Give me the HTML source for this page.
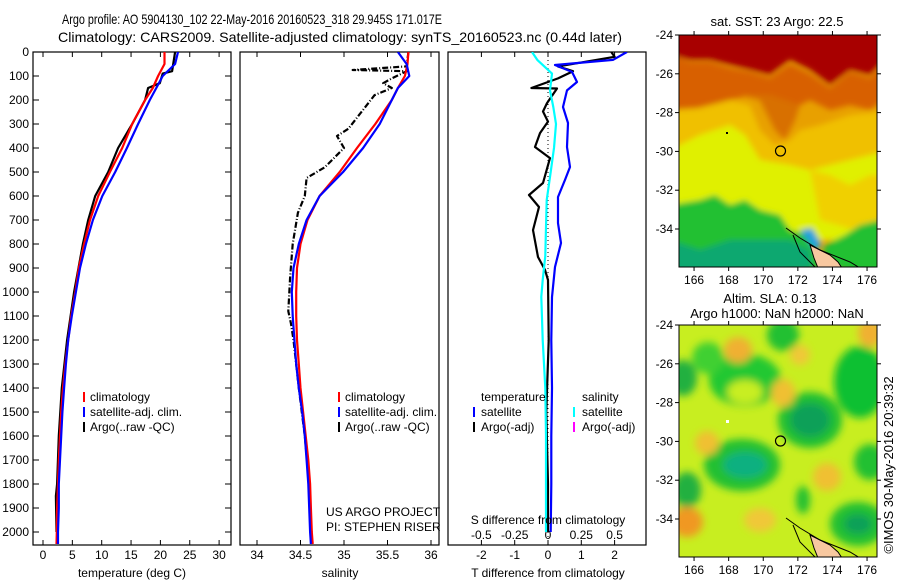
<!DOCTYPE html>
<html><head><meta charset="utf-8"><style>
body{margin:0;background:#fff;}
svg{display:block;font-family:"Liberation Sans",sans-serif;}
text{fill:#000;}
</style></head><body>
<svg id="fig" width="900" height="580" viewBox="0 0 900 580">
<defs>
<filter id="bl3" x="-20%" y="-20%" width="140%" height="140%"><feGaussianBlur stdDeviation="3"/></filter>
<filter id="bl6" x="-50%" y="-50%" width="200%" height="200%"><feGaussianBlur stdDeviation="4"/></filter>
<clipPath id="cm1"><rect x="679" y="35" width="198" height="232"/></clipPath>
<clipPath id="cm2"><rect x="679" y="325" width="198" height="232"/></clipPath>
<clipPath id="cp1"><rect x="33" y="52" width="198" height="493"/></clipPath>
<clipPath id="cp2"><rect x="240" y="52" width="199" height="493"/></clipPath>
<clipPath id="cp3"><rect x="448" y="52" width="198" height="493"/></clipPath>
</defs>
<text x="62" y="24" font-size="14" textLength="380" lengthAdjust="spacingAndGlyphs">Argo profile: AO 5904130_102 22-May-2016 20160523_318 29.945S 171.017E</text>
<text x="58" y="42" font-size="14" textLength="564" lengthAdjust="spacingAndGlyphs">Climatology: CARS2009. Satellite-adjusted climatology: synTS_20160523.nc (0.44d later)</text>

<g id="axes"></g>

<!-- Map 1: SST -->
<g>
<g clip-path="url(#cm1)">
<rect x="679" y="35" width="198" height="232" fill="#e8a000"/>
<g filter="url(#bl3)">
<polygon points="670,25 890,25 890,55 870,75 850,70 830,85 810,70 790,60 770,75 750,70 730,65 710,60 690,60 670,55" fill="#a80000"/>
<polygon points="670,55 690,62 710,62 730,68 750,72 770,78 790,64 810,74 830,88 850,72 870,78 890,58 890,95 870,110 850,105 830,110 810,100 790,110 770,100 750,95 730,100 710,105 690,110 670,110" fill="#d86000"/>
<polygon points="740,95 760,100 775,130 785,140 795,120 800,105 770,95" fill="#d87000"/>
<polygon points="670,110 700,108 730,100 750,105 760,130 775,145 790,140 800,130 820,125 850,115 890,110 890,200 670,200" fill="#f0c000"/>
<polygon points="670,150 700,135 730,125 745,135 760,160 790,165 810,170 830,165 850,160 870,155 890,150 890,240 670,240" fill="#e0f000"/>
<polygon points="810,170 830,175 850,185 870,175 890,175 890,240 820,220" fill="#f0d000"/>
<polygon points="670,205 700,200 715,195 730,205 745,200 760,210 780,215 790,230 810,235 815,250 820,270 670,280" fill="#20c030"/>
<polygon points="820,265 825,245 845,235 860,225 880,220 890,220 890,280" fill="#20c030"/>
<polygon points="670,240 700,250 730,240 760,240 790,240 810,250 812,270 670,280" fill="#10a870"/>
<polygon points="800,230 812,228 822,245 815,250" fill="#20a0e0"/>
</g>
<polygon points="810,245 820,250 830,255 838,262 842,268 818,268 814,258" fill="#f8c8a0" stroke="#000" stroke-width="1"/>
<polyline points="786,228 800,238 820,250 850,262 860,268" fill="none" stroke="#000" stroke-width="1"/>
<polyline points="793,235 800,252 816,268" fill="none" stroke="#000" stroke-width="1"/>
<circle cx="780.5" cy="151" r="5" fill="none" stroke="#000" stroke-width="1.2"/>
<rect x="726" y="132" width="2" height="2" fill="#000"/>
</g>
<rect x="679" y="35" width="198" height="232" fill="none" stroke="#000"/>
<text x="777" y="26" font-size="13" text-anchor="middle">sat. SST: 23 Argo: 22.5</text>
</g>

<!-- Map 2: SLA -->
<g>
<g clip-path="url(#cm2)">
<rect x="679" y="325" width="198" height="232" fill="#c8ee20"/>
<g filter="url(#bl6)">
<ellipse cx="745" cy="380" rx="36" ry="26" fill="#20c830"/>
<ellipse cx="745" cy="392" rx="18" ry="12" fill="#c8ee20"/>
<ellipse cx="708" cy="358" rx="16" ry="16" fill="#40d030"/>
<ellipse cx="738" cy="350" rx="14" ry="13" fill="#f0b030"/>
<ellipse cx="683" cy="378" rx="14" ry="18" fill="#20b040"/>
<ellipse cx="783" cy="335" rx="16" ry="16" fill="#20c030"/>
<ellipse cx="810" cy="420" rx="32" ry="28" fill="#20c030"/>
<ellipse cx="810" cy="420" rx="20" ry="17" fill="#10a058"/>
<ellipse cx="860" cy="382" rx="26" ry="36" fill="#10c030"/>
<ellipse cx="742" cy="465" rx="38" ry="26" fill="#20c030"/>
<ellipse cx="745" cy="465" rx="22" ry="13" fill="#10b080"/>
<ellipse cx="687" cy="490" rx="14" ry="18" fill="#20b040"/>
<ellipse cx="687" cy="522" rx="16" ry="15" fill="#f09820"/>
<ellipse cx="858" cy="524" rx="28" ry="22" fill="#20c030"/>
<ellipse cx="858" cy="524" rx="14" ry="10" fill="#10a058"/>
<ellipse cx="870" cy="462" rx="16" ry="18" fill="#20c030"/>
<ellipse cx="783" cy="393" rx="12" ry="14" fill="#f0c030"/>
<ellipse cx="707" cy="443" rx="12" ry="12" fill="#f0c030"/>
<ellipse cx="870" cy="333" rx="12" ry="14" fill="#f0b030"/>
<ellipse cx="827" cy="477" rx="14" ry="14" fill="#f0c030"/>
<ellipse cx="803" cy="500" rx="7" ry="14" fill="#20c030"/>
<ellipse cx="760" cy="520" rx="16" ry="12" fill="#f0c838"/>
<ellipse cx="800" cy="355" rx="10" ry="10" fill="#f0c838"/>
</g>
<polygon points="810,535 820,540 830,545 838,552 842,558 818,558 814,548" fill="#f8c8a0" stroke="#000" stroke-width="1"/>
<polyline points="786,518 800,528 820,540 850,552 860,558" fill="none" stroke="#000" stroke-width="1"/>
<polyline points="793,525 800,542 816,558" fill="none" stroke="#000" stroke-width="1"/>
<circle cx="780.5" cy="441" r="5" fill="none" stroke="#000" stroke-width="1.2"/>
<rect x="726" y="420" width="3" height="3" fill="#fff"/>
</g>
<rect x="679" y="325" width="198" height="232" fill="none" stroke="#000"/>
<text x="770" y="303" font-size="13" text-anchor="middle">Altim. SLA: 0.13</text>
<text x="777" y="318" font-size="13" text-anchor="middle">Argo h1000: NaN h2000: NaN</text>
</g>
<text transform="translate(893,465) rotate(-90)" font-size="13" text-anchor="middle">©IMOS 30-May-2016 20:39:32</text>

<text x="326" y="516" font-size="12">US ARGO PROJECT</text>
<text x="326" y="531" font-size="12">PI: STEPHEN RISER</text>
<text x="132" y="577" font-size="12" text-anchor="middle">temperature (deg C)</text>
<text x="340" y="577" font-size="12" text-anchor="middle">salinity</text>
<text x="548" y="577" font-size="12" text-anchor="middle">T difference from climatology</text>
<text x="548" y="524" font-size="12" text-anchor="middle">S difference from climatology</text>

<g id="legends">
<g>
<rect x="83" y="392" width="2" height="10" fill="#f00"/><text x="90" y="401" font-size="12">climatology</text>
<rect x="83" y="407" width="2" height="10" fill="#00f"/><text x="90" y="416" font-size="12">satellite-adj. clim.</text>
<rect x="83" y="422" width="2" height="10" fill="#000"/><text x="90" y="431" font-size="12">Argo(..raw -QC)</text>
</g>
<g>
<rect x="338" y="392" width="2" height="10" fill="#f00"/><text x="345" y="401" font-size="12">climatology</text>
<rect x="338" y="407" width="2" height="10" fill="#00f"/><text x="345" y="416" font-size="12">satellite-adj. clim.</text>
<rect x="338" y="422" width="2" height="10" fill="#000"/><text x="345" y="431" font-size="12">Argo(..raw -QC)</text>
</g>
<g>
<text x="481" y="401" font-size="12">temperature</text>
<rect x="473" y="407" width="2" height="10" fill="#00f"/><text x="481" y="416" font-size="12">satellite</text>
<rect x="473" y="422" width="2" height="10" fill="#000"/><text x="481" y="431" font-size="12">Argo(-adj)</text>
<text x="582" y="401" font-size="12">salinity</text>
<rect x="573" y="407" width="2" height="10" fill="#0ff"/><text x="582" y="416" font-size="12">satellite</text>
<rect x="573" y="422" width="2" height="10" fill="#f0f"/><text x="582" y="431" font-size="12">Argo(-adj)</text>
</g>
</g>
</svg>
<script>
// ---- data ----
const depthClim = [0,50,100,150,200,300,400,500,600,700,800,900,1000,1100,1200,1300,1400,1500,1600,1700,1800,1900,2000,2050];
const tempClim = [20.7,20.7,19.6,18.7,17.4,15.2,13.5,11.4,9.4,8.0,7.0,6.1,5.5,4.8,4.3,3.8,3.4,3.1,2.9,2.7,2.55,2.4,2.35,2.3];
const tempSat = [23.0,22.5,20.4,19.3,18.2,16.2,14.3,12.3,10.1,8.5,7.3,6.3,5.6,4.9,4.3,3.9,3.6,3.3,3.1,2.9,2.7,2.7,2.55,2.55];
const depthArgoT = [0,80,90,130,150,200,300,400,500,600,700,800,1000,1200,1400,1600,1800,1850,2000];
const tempArgo = [22.5,22.0,20.4,19.9,17.9,17.4,15.2,12.8,11.1,8.9,7.7,6.8,5.3,4.1,3.2,2.7,2.4,2.2,2.3];
const salClim = [35.74,35.73,35.70,35.62,35.55,35.36,35.15,34.95,34.72,34.58,34.50,34.46,34.45,34.45,34.46,34.48,34.50,34.53,34.56,34.59,34.61,34.62,34.63,34.64];
const salSat = [35.62,35.72,35.75,35.62,35.55,35.41,35.22,34.99,34.72,34.57,34.48,34.42,34.40,34.41,34.43,34.45,34.48,34.52,34.55,34.57,34.59,34.60,34.61,34.62];
const depthArgoS = [0,60,75,80,110,130,150,180,250,320,350,400,480,525,600,670,800,940,1080,1130,1200,1400,1600,1800,2000];
const salArgo = [35.74,35.72,35.10,35.72,35.55,35.45,35.55,35.35,35.20,35.05,34.92,35.00,34.78,34.57,34.55,34.47,34.41,34.38,34.36,34.39,34.42,34.48,34.55,34.60,34.62];
const depthDiffSat = [0,33,54,83,125,160,229,296,396,479,533,604,713,796,896,1021,1200,1400,1600,1800,2000];
const tDiffSat = [2.37,1.95,0.21,0.72,0.87,0.57,0.45,0.6,0.57,0.66,0.51,0.3,0.3,0.39,0.21,0.12,0.1,0.12,0.1,0.1,0.08];
const depthDiffArgo = [0,20,60,80,110,150,152,213,248,290,338,396,442,546,596,646,742,854,908,950,1200,1500,1800,2000];
const tDiffArgo = [1.9,2.0,0.3,0.75,0.3,-0.5,0.27,-0.03,-0.15,0.0,-0.24,-0.39,0.06,-0.15,-0.57,-0.27,-0.45,-0.3,-0.09,0.0,0.02,-0.05,0.0,0.0];
const depthDiffS = [0,33,90,160,229,300,400,500,617,729,850,950,1020,1200,1400,1600,1800,2000];
const sDiffSat = [-0.12,-0.08,0.03,0.015,0.04,0.06,0.045,0.02,-0.01,-0.015,-0.02,-0.04,-0.05,-0.04,-0.02,-0.015,-0.015,-0.015];
const depthTicks = [0,100,200,300,400,500,600,700,800,900,1000,1100,1200,1300,1400,1500,1600,1700,1800,1900,2000];
const tempTicks = [0,5,10,15,20,25,30];
const salTicks = [34,34.5,35,35.5,36];
const tDiffTicks = [-2,-1,0,1,2];
const sDiffTicks = [-0.5,-0.25,0,0.25,0.5];
const lonTicks = [166,168,170,172,174,176];
const latTicks = [-24,-26,-28,-30,-32,-34];

// ---- scales ----
const yD = d => 52 + 0.24*d;
const xT = t => 43 + 5.87*t;
const xS = s => 257 + 87*(s-34);
const xTd = v => 548 + 33.3*v;
const xSd = v => 548 + 133.2*v;
const xLon = l => 679 + (l-165.13)*17.3;
const yLat1 = l => 35 + (-24-l)*19.4;
const yLat2 = l => 325 + (-24-l)*19.4;

const NS = 'http://www.w3.org/2000/svg';
const axes = document.getElementById('axes');
function mk(tag, attrs, parent){const e=document.createElementNS(NS,tag);for(const k in attrs)e.setAttribute(k,attrs[k]);(parent||axes).appendChild(e);return e;}

const panels = [[33,231,'temperature-panel'],[240,439,'salinity-panel'],[448,646,'difference-panel']];
panels.forEach(p=>{
  const r = mk('rect',{x:p[0],y:52,width:p[1]-p[0],height:493,fill:'none',stroke:'#000','stroke-width':1.2});
  
  
});
depthTicks.forEach(d=>{
  mk('line',{x1:33,x2:39,y1:yD(d),y2:yD(d),stroke:'#000'});
  mk('line',{x1:225,x2:231,y1:yD(d),y2:yD(d),stroke:'#000'});
  const t = mk('text',{x:29,y:yD(d)+4,'font-size':12,'text-anchor':'end'});
  t.textContent = d;
  
  
});
function xticks(vals, f, ylab){
  vals.forEach(v=>{
    const x=f(v);
    mk('line',{x1:x,x2:x,y1:52,y2:57,stroke:'#000'});
    mk('line',{x1:x,x2:x,y1:540,y2:545,stroke:'#000'});
    const t = mk('text',{x:x,y:ylab,'font-size':12,'text-anchor':'middle'});
    t.textContent = v;
    
    
  });
}
xticks(tempTicks,xT,559);
xticks(salTicks,xS,559);
xticks(tDiffTicks,xTd,559);
sDiffTicks.forEach(v=>{
  const t = mk('text',{x:xSd(v),y:539,'font-size':12,'text-anchor':'middle'});
  t.textContent = v;
  
  
});
const zl = mk('line',{x1:548,x2:548,y1:52,y2:545,stroke:'#000','stroke-dasharray':'1 3'});



function line(xs, ds, fx, color, clip, name, dash){
  const pts = xs.map((v,i)=>fx(v).toFixed(1)+','+yD(ds[i]).toFixed(1)).join(' ');
  const a = {points:pts,fill:'none',stroke:color,'stroke-width':2.2,'clip-path':'url(#'+clip+')','stroke-linejoin':'round'};
  if(dash) a['stroke-dasharray']=dash;
  const e = mk('polyline',a);
  
  
}
line(tempArgo, depthArgoT, xT, '#000', 'cp1', 'temp-argo-line');
line(tempClim, depthClim, xT, '#f00', 'cp1', 'temp-clim-line');
line(tempSat, depthClim, xT, '#00f', 'cp1', 'temp-sat-line');
line(salArgo, depthArgoS, xS, '#000', 'cp2', 'sal-argo-line', '6 2 1 2');
line(salClim, depthClim, xS, '#f00', 'cp2', 'sal-clim-line');
line(salSat, depthClim, xS, '#00f', 'cp2', 'sal-sat-line');
line(tDiffArgo, depthDiffArgo, xTd, '#000', 'cp3', 't-diff-argo-line');
line(tDiffSat, depthDiffSat, xTd, '#00f', 'cp3', 't-diff-sat-line');
line(sDiffSat, depthDiffS, xSd, '#0ff', 'cp3', 's-diff-sat-line');

[[yLat1,35,267],[yLat2,325,557]].forEach(m=>{
  const fy=m[0], top=m[1], bot=m[2];
  lonTicks.forEach(l=>{
    const x=xLon(l);
    mk('line',{x1:x,x2:x,y1:top-4,y2:top,stroke:'#000'});
    mk('line',{x1:x,x2:x,y1:bot,y2:bot+4,stroke:'#000'});
    const t = mk('text',{x:x,y:bot+17,'font-size':12,'text-anchor':'middle'});
    t.textContent = l;
    
    
  });
  latTicks.forEach(l=>{
    const y=fy(l);
    mk('line',{x1:675,x2:679,y1:y,y2:y,stroke:'#000'});
    mk('line',{x1:877,x2:881,y1:y,y2:y,stroke:'#000'});
    const t = mk('text',{x:673,y:y+4,'font-size':12,'text-anchor':'end'});
    t.textContent = l;
    
    
  });
});
</script>
</body></html>
